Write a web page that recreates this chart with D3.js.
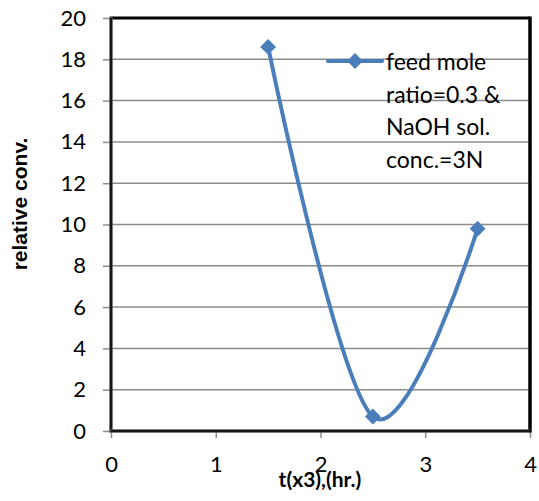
<!DOCTYPE html>
<html>
<head>
<meta charset="utf-8">
<script src="https://cdn.jsdelivr.net/npm/d3@7"></script>
<style>
  html, body { margin: 0; padding: 0; background: #fff; }
  svg { display: block; }
</style>
</head>
<body>
<svg id="chart" width="539" height="501"></svg>
<script>
// Relative conversion vs. time
const timeValues = [1.5, 2.5, 3.5];
const convValues = [18.6, 0.7, 9.8];
const xTicks = [0, 1, 2, 3, 4];
const yTicks = [0, 2, 4, 6, 8, 10, 12, 14, 16, 18, 20];
const legendLines = ["feed mole", "ratio=0.3 &", "NaOH sol.", "conc.=3N"];

const svg = d3.select("#chart");
const plotL = 111, plotR = 530, plotT = 18, plotB = 431;
const blue = "#4a7ebb";
const tickFont = "Lato, 'Open Sans', sans-serif";

const x = d3.scaleLinear().domain([0, 4]).range([plotL, plotR]);
const y = d3.scaleLinear().domain([0, 20]).range([plotB, plotT]);

// horizontal gridlines
svg.append("g").selectAll("line").data(yTicks.filter(d => d > 0 && d < 20)).join("line")
  .attr("x1", plotL).attr("x2", plotR)
  .attr("y1", d => y(d)).attr("y2", d => y(d))
  .attr("stroke", "#8c8c8c").attr("stroke-width", 1.5);

// y axis
const yAxis = svg.append("g").attr("transform", `translate(${plotL},0)`)
  .call(d3.axisLeft(y).tickValues(yTicks).tickFormat(d3.format("d")).tickSize(8).tickPadding(17));
yAxis.select(".domain").remove();
yAxis.selectAll(".tick line").attr("stroke", "#8c8c8c").attr("stroke-width", 1.5);
yAxis.selectAll(".tick text").attr("font-family", tickFont).attr("font-size", 22).attr("fill", "#000");

// x axis
const xAxis = svg.append("g").attr("transform", `translate(0,${plotB})`)
  .call(d3.axisBottom(x).tickValues(xTicks).tickFormat(d3.format("d")).tickSize(7).tickPadding(18));
xAxis.select(".domain").remove();
xAxis.selectAll(".tick line").attr("stroke", "#8c8c8c").attr("stroke-width", 1.5);
xAxis.selectAll(".tick text").attr("font-family", tickFont).attr("font-size", 22).attr("fill", "#000");

// plot frame
svg.append("line").attr("x1", plotL).attr("x2", plotR).attr("y1", plotT).attr("y2", plotT)
  .attr("stroke", "#000").attr("stroke-width", 3);
svg.append("line").attr("x1", plotR).attr("x2", plotR).attr("y1", plotT - 1.5).attr("y2", plotB + 1.5)
  .attr("stroke", "#000").attr("stroke-width", 3.5);
svg.append("line").attr("x1", plotL).attr("x2", plotL).attr("y1", plotT - 1.5).attr("y2", plotB + 1)
  .attr("stroke", "#555").attr("stroke-width", 3.5);
svg.append("line").attr("x1", plotL).attr("x2", plotL).attr("y1", plotT).attr("y2", plotB)
  .attr("stroke", "#000").attr("stroke-width", 1.5);
svg.append("line").attr("x1", plotL - 1.5).attr("x2", plotR).attr("y1", plotB).attr("y2", plotB)
  .attr("stroke", "#555").attr("stroke-width", 3.5);
svg.append("line").attr("x1", plotL).attr("x2", plotR).attr("y1", plotB).attr("y2", plotB)
  .attr("stroke", "#000").attr("stroke-width", 1.5);

// smoothed series line
const pts = timeValues.map((t, i) => [t, convValues[i]]);
const line = d3.line().x(d => x(d[0])).y(d => y(d[1])).curve(d3.curveCardinal.tension(0));
svg.append("path").datum(pts).attr("d", line)
  .attr("fill", "none").attr("stroke", blue).attr("stroke-width", 4);

// diamond markers
const diamond = d3.symbol().type(d3.symbolDiamond2).size(160);
svg.append("g").selectAll("path").data(pts).join("path")
  .attr("transform", d => `translate(${x(d[0])},${y(d[1])})`)
  .attr("d", diamond).attr("fill", blue);

// legend
const lg = svg.append("g");
lg.append("line").attr("x1", 328).attr("x2", 382).attr("y1", 61).attr("y2", 61)
  .attr("stroke", blue).attr("stroke-width", 4).attr("stroke-linecap", "round");
lg.append("path").attr("transform", "translate(355,61)").attr("d", diamond).attr("fill", blue);
lg.selectAll("text").data(legendLines).join("text")
  .attr("x", 386).attr("y", (d, i) => 70 + i * 32.5)
  .attr("font-family", tickFont).attr("font-size", 23).attr("fill", "#000")
  .text(d => d);

// axis titles
svg.append("text").attr("x", 320).attr("y", 487).attr("text-anchor", "middle")
  .attr("font-family", tickFont).attr("font-weight", "bold")
  .attr("font-size", 21).text("t(x3),(hr.)");
svg.append("text").attr("transform", "translate(27,204) rotate(-90)").attr("text-anchor", "middle")
  .attr("font-family", "'Liberation Sans', Arial, sans-serif").attr("font-weight", "bold")
  .attr("font-size", 21).text("relative conv.");
</script>
</body>
</html>
